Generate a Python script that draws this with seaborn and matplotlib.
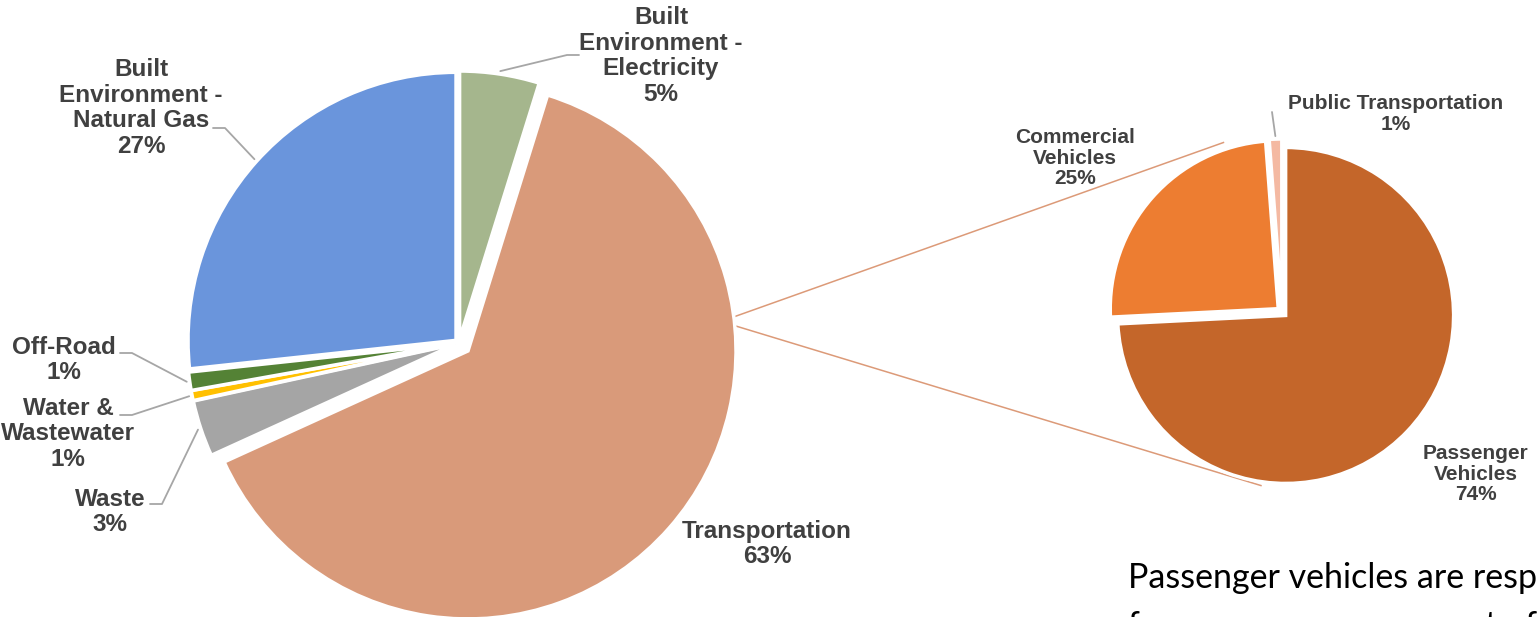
import numpy as np
import matplotlib.pyplot as plt
import seaborn as sns

# -----------------------------
# Data
# -----------------------------
sectors = [
    "Built\nEnvironment -\nElectricity",
    "Transportation",
    "Waste",
    "Water &\nWastewater",
    "Off-Road",
    "Built\nEnvironment -\nNatural Gas",
]
sector_share = [4.8, 63.4, 3.4, 0.6, 1.1, 26.7]
sector_colors = ["#A5B68D", "#D99A7A", "#A5A5A5", "#FFC000", "#548235", "#6A95DC"]

vehicles = ["Passenger\nVehicles", "Commercial\nVehicles", "Public Transportation"]
vehicle_share = [74.2, 24.6, 1.2]
vehicle_colors = ["#C4662A", "#ED7D31", "#F4B9A2"]

note = ["Passenger vehicles are responsible",
        "for an enormous amount of emissions"]

# -----------------------------
# Figure (axes in pixel units)
# -----------------------------
sns.set_theme(style="white")
plt.rcParams["font.family"] = ["Liberation Sans", "DejaVu Sans"]

W, H = 1538, 617
fig = plt.figure(figsize=(W / 100, H / 100), dpi=100)
ax = fig.add_axes([0, 0, 1, 1])


def px(x, y):
    return x, H - y


def edge_point(w, ang, extra=0.0):
    a = np.deg2rad(ang)
    return (w.center[0] + (w.r + extra) * np.cos(a),
            w.center[1] + (w.r + extra) * np.sin(a))


def mid_angle(w):
    return 0.5 * (w.theta1 + w.theta2)


label_color = "#404040"
leader_color = "#A6A6A6"

# left pie
wedges1, _ = ax.pie(
    sector_share,
    colors=sector_colors,
    startangle=90,
    counterclock=False,
    center=px(459, 343),
    radius=268,
    explode=[4, 12, 4, 4, 4, 4],
    wedgeprops=dict(edgecolor="white", linewidth=2.5),
)

# right pie (breakdown of transportation)
wedges2, _ = ax.pie(
    vehicle_share,
    colors=vehicle_colors,
    startangle=90,
    counterclock=False,
    center=px(1282, 312),
    radius=168,
    explode=[5, 5, 5],
    wedgeprops=dict(edgecolor="white", linewidth=2.5),
)

ax.set_xlim(0, W)
ax.set_ylim(0, H)
ax.set_aspect("equal")
ax.axis("off")

# -----------------------------
# Connector lines between pies
# -----------------------------
trans = wedges1[1]
start_top = edge_point(trans, 7.3)
start_bot = edge_point(trans, 5.4)
end_top = edge_point(wedges2[1], 108, 7)
end_bot = edge_point(wedges2[0], 262, 4)
for s, e in [(start_top, end_top), (start_bot, end_bot)]:
    ax.plot([s[0], e[0]], [s[1], e[1]], color="#DC9A78", lw=1.1,
            solid_capstyle="butt", zorder=0)

# -----------------------------
# Data labels
# -----------------------------
label_pos1 = [(661, 56), (767, 544), (110, 512), (68, 434), (64, 360), (141, 108)]
label_pos2 = [(1476, 474), (1075, 158), (1396, 114)]

for w, name, v, pos in zip(wedges1, sectors, sector_share, label_pos1):
    ax.text(*px(*pos), f"{name}\n{round(v):.0f}%", ha="center", va="center",
            fontsize=17.5, fontweight="bold", color=label_color, linespacing=1.13)

for w, name, v, pos in zip(wedges2, vehicles, vehicle_share, label_pos2):
    ax.text(*px(*pos), f"{name}\n{round(v):.0f}%", ha="center", va="center",
            fontsize=15, fontweight="bold", color=label_color, linespacing=1.13)

# leader lines: (wedge, knee point in pixels, horizontal direction toward label)
leaders = [
    (wedges1[0], (567, 55), +1),
    (wedges1[5], (225, 128), -1),
    (wedges1[4], (132, 353), -1),
    (wedges1[3], (132, 415), -1),
    (wedges1[2], (162, 504), -1),
]
for w, knee, d in leaders:
    p = edge_point(w, mid_angle(w), 3)
    k = px(*knee)
    ax.plot([p[0], k[0], k[0] + d * 12], [p[1], k[1], k[1]],
            color=leader_color, lw=1.3)

pub = wedges2[2]
p = edge_point(pub, mid_angle(pub), 3)
k = px(1272, 112)
ax.plot([p[0], k[0]], [p[1], k[1]], color=leader_color, lw=1.3)

# -----------------------------
# Note text (cut off by the slide edge, as on the slide)
# -----------------------------
ax.text(*px(1128, 588), note[0], ha="left", va="baseline",
        fontsize=24.5, family=["Lato", "DejaVu Sans"], color="black")
ax.text(*px(1128, 636), note[1], ha="left", va="baseline",
        fontsize=24.5, family=["Lato", "DejaVu Sans"], color="black")

fig.savefig("out.png", dpi=100)
